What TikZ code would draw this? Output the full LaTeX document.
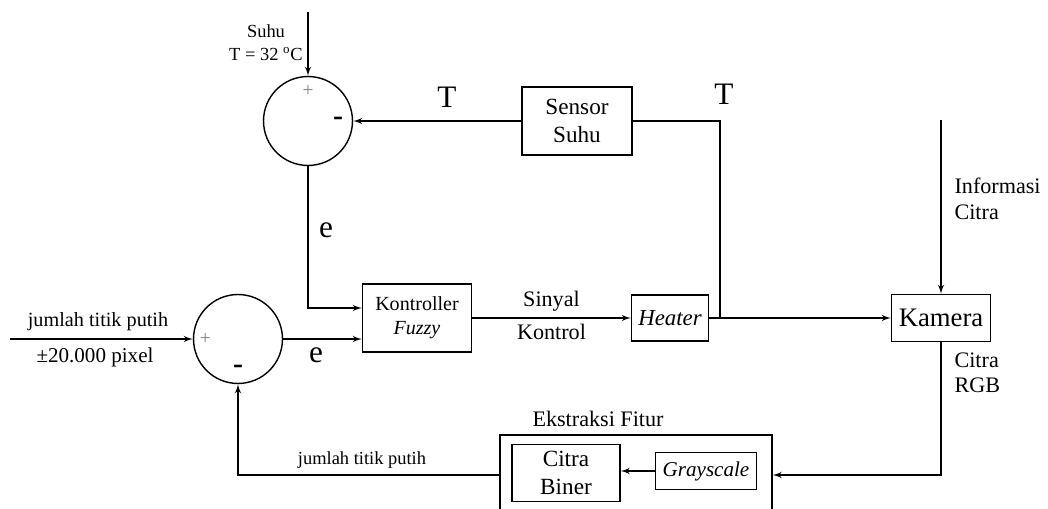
\documentclass[tikz,border=0pt]{standalone}
\usepackage{fontspec}
\setmainfont{Liberation Serif}
\usetikzlibrary{arrows,positioning}

\begin{document}
\begin{tikzpicture}[>=latex',x=0.02cm,y=-0.02cm,line width=0.8pt,
	blok/.style={draw,rectangle,align=center,inner sep=1pt},
	jumlah/.style={draw,circle,minimum size=1.78cm,inner sep=0pt},
	teks/.style={font=\fontsize{12.6}{14.5}\selectfont},
	huruf/.style={font=\fontsize{17.8}{20}\selectfont},
	plus/.style={font=\fontsize{11}{11}\selectfont,text=gray},
	minus/.style={font=\bfseries\fontsize{17}{17}\selectfont}]

\path[use as bounding box,clip] (0,0) rectangle (1048,509);

% penjumlah
\node[jumlah]   (s1) at (308,121)   {};
\node[jumlah]   (s2) at (238,339)   {};
\node[plus]   (s1p) at ([yshift=-3mm]s1.north)   {+};
\node[minus]  (s1m) at ([xshift=-3mm]s1.east)    {-};
\node[plus]   (s2p) at ([xshift=2.5mm]s2.west)   {+};
\node[minus]  (s2m) at ([yshift=2.9mm]s2.south)  {-};

% blok
\node[blok,minimum width=2.2cm,minimum height=1.36cm,font=\fontsize{13.2}{15.5}\selectfont]   (sensor) at (577,121)   {Sensor\\Suhu};
\node[blok,minimum width=2.18cm,minimum height=1.36cm,font=\fontsize{11.4}{13.5}\selectfont]   (fuzzy) at (417,318)   {Kontroller\\\textit{Fuzzy}};
\node[blok,minimum width=1.54cm,minimum height=0.92cm,font=\fontsize{13}{15}\selectfont]   (heater) at (670,318)   {\textit{Heater}};
\node[blok,minimum width=1.98cm,minimum height=0.94cm,font=\fontsize{15.2}{17}\selectfont]   (kamera) at (941,318)   {Kamera};
\node[blok,minimum width=5.44cm,minimum height=1.6cm]   (fitur) at (636,475)   {};
\node[blok,minimum width=2.16cm,minimum height=1.14cm,font=\fontsize{13.2}{15.5}\selectfont]   (biner) at (566,473)   {Citra\\Biner};
\node[blok,minimum width=2.02cm,minimum height=0.74cm,font=\fontsize{12}{14}\selectfont]   (gray) at (706,471)   {\textit{Grayscale}};

\coordinate (suhu) at (308,12);
\coordinate (piksel) at (10,339);
\coordinate (info) at (941,120);
\coordinate (tap) at (720,318);

% label
\node[font=\fontsize{10.5}{13}\selectfont,align=center]   (lsuhu) at (266,43)   {Suhu\\T = 32 \textsuperscript{o}C};
\node[huruf]   (lt1) at (447,97)   {T};
\node[huruf]   (lt2) at (724,94)   {T};
\node[huruf]   (le1) at (326,230)   {e};
\node[huruf]   (le2) at (316,355)   {e};
\node[font=\fontsize{11.5}{13}\selectfont]   (lpix1) at (98,322)   {jumlah titik putih};
\node[font=\fontsize{12}{13}\selectfont]   (lpix2) at (95,357)   {±20.000 pixel};
\node[teks,align=left,anchor=west]   (linfo) at (948,199)   {Informasi\\Citra};
\node[teks,align=left,anchor=west]   (lrgb) at (948,373)   {Citra\\RGB};
\node[teks]   (lfitur) at (598,419)   {Ekstraksi Fitur};
\node[font=\fontsize{10.5}{12}\selectfont]   (lbalik) at (362,460)   {jumlah titik putih};

% sambungan
\path[->] (suhu)    edge   (s1.north)
          (sensor)  edge   (s1.east)
          (piksel)  edge   (s2.west)
          (s2)      edge   (s2 -| fuzzy.west)
          (fuzzy)   edge   node[teks,above]{Sinyal} node[teks,below]{Kontrol}   (heater)
          (heater)  edge   (kamera)
          (info)    edge   (kamera.north)
          (gray)    edge   (gray -| biner.east);

\draw (sensor.east) -| (tap);
\draw[->] (s1.south) |- ([yshift=2mm]fuzzy.west);
\draw[->] (kamera.south) |- (fitur.east);
\draw[->] (fitur.west) -| (s2.south);

\end{tikzpicture}
\end{document}
